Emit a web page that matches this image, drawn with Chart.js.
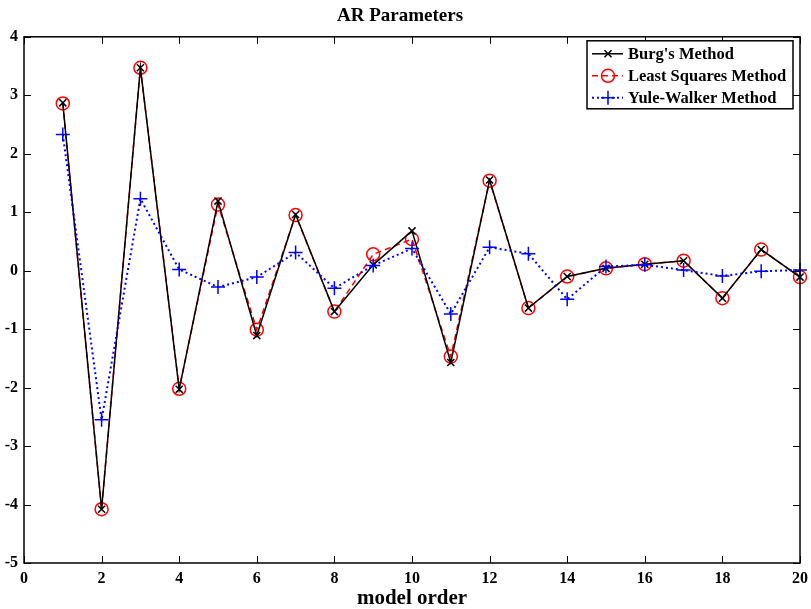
<!DOCTYPE html>
<html>
<head>
<meta charset="utf-8">
<script src="https://cdn.jsdelivr.net/npm/chart.js@4.4.1/dist/chart.umd.min.js"></script>
<style>
  html, body { margin: 0; padding: 0; background: #fff; }
  #wrap { width: 811px; height: 609px; }
</style>
</head>
<body>
<div id="wrap"><canvas id="arChart" width="811" height="609"></canvas></div>
<script>
        const modelOrder = [1, 2, 3, 4, 5, 6, 7, 8, 9, 10, 11, 12, 13, 14, 15, 16, 17, 18, 19, 20];
        const burgValues = [2.87, -4.08, 3.47, -2.03, 1.19, -1.11, 0.96, -0.70, 0.10, 0.68, -1.57, 1.55, -0.64, -0.10, 0.04, 0.11, 0.17, -0.47, 0.36, -0.11];
        const leastSquaresValues = [2.86, -4.08, 3.47, -2.02, 1.13, -1.01, 0.95, -0.70, 0.28, 0.54, -1.47, 1.54, -0.64, -0.10, 0.04, 0.11, 0.17, -0.47, 0.36, -0.11];
        const yuleWalkerValues = [2.33, -2.55, 1.23, 0.02, -0.28, -0.11, 0.31, -0.30, 0.09, 0.38, -0.74, 0.40, 0.29, -0.49, 0.07, 0.10, 0.01, -0.09, -0.01, 0.01];
        const seriesLabels = ["Burg's Method", 'Least Squares Method', 'Yule-Walker Method'];
        const xTicks = [0, 2, 4, 6, 8, 10, 12, 14, 16, 18, 20];
        const yTicks = [-5, -4, -3, -2, -1, 0, 1, 2, 3, 4];

        const serif = "'Liberation Serif', 'Times New Roman', serif";

        function toPoints(values) {
            return modelOrder.map((x, i) => ({ x: x, y: values[i] }));
        }

        // frame box with inward tick marks, like the matlab axes
        const framePlugin = {
            id: 'frame',
            afterDraw(chart) {
                const ctx = chart.ctx;
                const area = chart.chartArea;
                const xs = chart.scales.x;
                const ys = chart.scales.y;
                const len = 7;
                ctx.save();
                ctx.strokeStyle = '#000';
                ctx.lineWidth = 1.5;
                ctx.strokeRect(area.left, area.top, area.right - area.left, area.bottom - area.top);
                ctx.lineWidth = 1;
                ctx.beginPath();
                xTicks.forEach(v => {
                    const px = Math.round(xs.getPixelForValue(v)) + 0.5;
                    ctx.moveTo(px, area.bottom); ctx.lineTo(px, area.bottom - len);
                    ctx.moveTo(px, area.top); ctx.lineTo(px, area.top + len);
                });
                yTicks.forEach(v => {
                    const py = Math.round(ys.getPixelForValue(v)) + 0.5;
                    ctx.moveTo(area.left, py); ctx.lineTo(area.left + len, py);
                    ctx.moveTo(area.right, py); ctx.lineTo(area.right - len, py);
                });
                ctx.stroke();
                ctx.restore();
            }
        };

        function drawMarker(ctx, style, x, y, r) {
            ctx.beginPath();
            if (style === 'circle') {
                ctx.arc(x, y, r, 0, Math.PI * 2);
            } else if (style === 'cross') {
                ctx.moveTo(x - r, y); ctx.lineTo(x + r, y);
                ctx.moveTo(x, y - r); ctx.lineTo(x, y + r);
            } else {
                const d = r * Math.SQRT1_2;
                ctx.moveTo(x - d, y - d); ctx.lineTo(x + d, y + d);
                ctx.moveTo(x - d, y + d); ctx.lineTo(x + d, y - d);
            }
            ctx.stroke();
        }

        // boxed legend in the top right corner
        const boxLegendPlugin = {
            id: 'boxLegend',
            afterDraw(chart) {
                const ctx = chart.ctx;
                const area = chart.chartArea;
                const boxW = 206, boxH = 68;
                const bx = area.right - 7 - boxW;
                const by = area.top + 4;
                ctx.save();
                ctx.fillStyle = '#fff';
                ctx.fillRect(bx, by, boxW, boxH);
                ctx.strokeStyle = '#000';
                ctx.lineWidth = 1.5;
                ctx.strokeRect(bx, by, boxW, boxH);
                ctx.font = 'bold 16.5px ' + serif;
                ctx.textBaseline = 'middle';
                chart.data.datasets.forEach((ds, i) => {
                    const y = by + 13 + i * 22;
                    ctx.strokeStyle = ds.borderColor;
                    ctx.lineWidth = ds.borderWidth;
                    ctx.setLineDash(ds.borderDash || []);
                    ctx.beginPath();
                    ctx.moveTo(bx + 5, y); ctx.lineTo(bx + 36, y);
                    ctx.stroke();
                    ctx.setLineDash([]);
                    ctx.lineWidth = ds.pointBorderWidth;
                    drawMarker(ctx, ds.pointStyle, bx + 21, y, ds.pointRadius);
                    ctx.fillStyle = '#000';
                    ctx.fillText(ds.label, bx + 41, y + 1);
                });
                ctx.restore();
            }
        };

        const ctx = document.getElementById('arChart').getContext('2d');
        const chart = new Chart(ctx, {
            type: 'line',
            data: {
                datasets: [
                    {
                        label: seriesLabels[0],
                        data: toPoints(burgValues),
                        borderColor: '#000000',
                        borderWidth: 1.5,
                        pointStyle: 'crossRot',
                        pointRadius: 5,
                        pointBorderWidth: 1.5,
                        pointBorderColor: '#000000',
                        backgroundColor: 'transparent',
                        tension: 0,
                        clip: false,
                        order: 2
                    },
                    {
                        label: seriesLabels[1],
                        data: toPoints(leastSquaresValues),
                        borderColor: '#ff0000',
                        borderWidth: 1.5,
                        borderDash: [6, 4],
                        pointStyle: 'circle',
                        pointRadius: 6.5,
                        pointBorderWidth: 1.5,
                        pointBorderColor: '#ff0000',
                        pointBackgroundColor: 'transparent',
                        backgroundColor: 'transparent',
                        tension: 0,
                        clip: false,
                        order: 3
                    },
                    {
                        label: seriesLabels[2],
                        data: toPoints(yuleWalkerValues),
                        borderColor: '#0000ff',
                        borderWidth: 2,
                        borderDash: [2, 3],
                        pointStyle: 'cross',
                        pointRadius: 7,
                        pointBorderWidth: 1.5,
                        pointBorderColor: '#0000ff',
                        backgroundColor: 'transparent',
                        tension: 0,
                        clip: false,
                        order: 1
                    }
                ]
            },
            options: {
                responsive: false,
                animation: false,
                layout: { padding: { left: 0, right: 11, top: 0, bottom: 0 } },
                plugins: {
                    legend: { display: false },
                    tooltip: { enabled: false },
                    title: {
                        display: true,
                        text: 'AR Parameters',
                        color: '#000',
                        font: { family: serif, size: 19, weight: 'bold' },
                        padding: { top: 5, bottom: 9 }
                    }
                },
                scales: {
                    x: {
                        type: 'linear',
                        min: 0,
                        max: 20,
                        afterFit: s => { s.height = 46; s.paddingLeft = 0; s.paddingRight = 0; },
                        afterBuildTicks: s => { s.ticks = xTicks.map(v => ({ value: v })); },
                        grid: { display: false, drawTicks: false },
                        border: { display: false },
                        ticks: {
                            color: '#000',
                            padding: 6,
                            maxRotation: 0,
                            font: { family: serif, size: 16, weight: 'bold' }
                        },
                        title: {
                            display: true,
                            text: 'model order',
                            color: '#000',
                            padding: { top: 0, bottom: 0 },
                            font: { family: serif, size: 21, weight: 'bold', lineHeight: 1.0 }
                        }
                    },
                    y: {
                        type: 'linear',
                        min: -5,
                        max: 4,
                        afterFit: s => { s.width = 24; },
                        afterBuildTicks: s => { s.ticks = yTicks.map(v => ({ value: v })); },
                        grid: { display: false, drawTicks: false },
                        border: { display: false },
                        ticks: {
                            color: '#000',
                            padding: 6,
                            font: { family: serif, size: 16, weight: 'bold' }
                        }
                    }
                }
            },
            plugins: [framePlugin, boxLegendPlugin]
        });
</script>
</body>
</html>
